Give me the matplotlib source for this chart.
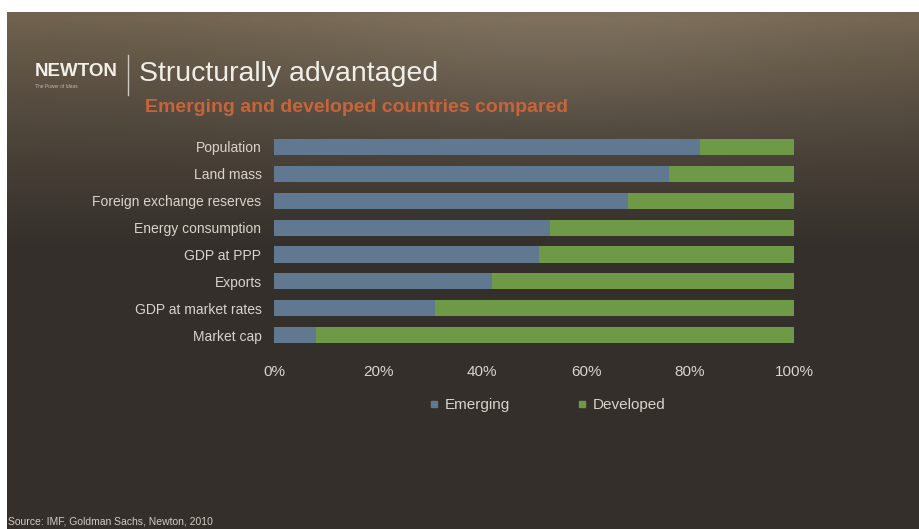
import numpy as np
import matplotlib.pyplot as plt
from matplotlib.lines import Line2D

# Share of world total held by emerging vs developed economies (%)
categories = ['Population', 'Land mass', 'Foreign exchange reserves', 'Energy consumption',
              'GDP at PPP', 'Exports', 'GDP at market rates', 'Market cap']
emerging = [82, 76, 68, 53, 51, 42, 31, 8]
developed = [100 - v for v in emerging]
xticks = [0, 20, 40, 60, 80, 100]
xtick_labels = ['0%', '20%', '40%', '60%', '80%', '100%']

blue = '#607890'
green = '#6e9946'
label_col = '#d8d4cc'

plt.rcParams['font.family'] = ['Liberation Sans', 'DejaVu Sans']

W, H = 919, 529
fig = plt.figure(figsize=(W / 100, H / 100), dpi=100)

# slide background: warm brown at the top fading into a dark charcoal
bg = fig.add_axes([0, 0, 1, 1])
yy, xx = np.mgrid[0:H, 0:W]
t = np.clip((yy - 20) / 230.0, 0, 1) ** 0.8
top = np.array([112, 98, 78]) / 255
bot = np.array([52, 47, 43]) / 255
img = top[None, None, :] * (1 - t[..., None]) + bot[None, None, :] * t[..., None]
glow = np.exp(-(((xx - 560) / 300.0) ** 2 + ((yy - 40) / 90.0) ** 2))[..., None]
img = img + glow * 0.06
img[:12, :, :] = 1.0
img[:, :7, :] = 1.0
bg.imshow(np.clip(img, 0, 1), aspect='auto', extent=[0, W, H, 0])
bg.set_xlim(0, W)
bg.set_ylim(H, 0)
bg.axis('off')

# header
bg.text(35, 71, 'NEWTON', color='#f2f0ea', fontsize=13.5, fontweight='bold', va='center')
bg.text(35, 86, 'The Power of Ideas', color='#bdb8ae', fontsize=3.5, va='center')
bg.plot([128, 128], [55, 95], color='#cfcac0', lw=1)
bg.text(139, 74, 'Structurally advantaged', color='#f0eee8', fontsize=20.5, va='center')
bg.text(145, 108, 'Emerging and developed countries compared', color='#c8643a',
        fontsize=14, fontweight='bold', va='center')
bg.text(8, 521, 'Source: IMF, Goldman Sachs, Newton, 2010', color='#d0ccc4',
        fontsize=7.5, va='center')

ax = fig.add_axes([274 / W, 1 - 348.5 / H, 520 / W, 215 / H])
ax.patch.set_alpha(0)
y = np.arange(len(categories))
ax.barh(y, emerging, height=0.6, color=blue, label='Emerging')
ax.barh(y, developed, left=emerging, height=0.6, color=green, label='Developed')
ax.set_xlim(0, 100)
ax.set_ylim(len(categories) - 0.5, -0.5)
ax.set_yticks(y)
ax.set_yticklabels(categories, color=label_col, fontsize=10)
ax.set_xticks(xticks)
ax.set_xticklabels(xtick_labels, color=label_col, fontsize=11)
ax.tick_params(length=0)
ax.tick_params(axis='y', pad=9)
ax.tick_params(axis='x', pad=12)
for s in ax.spines.values():
    s.set_visible(False)

handles = [Line2D([], [], marker='s', ls='', color=blue, markersize=4),
           Line2D([], [], marker='s', ls='', color=green, markersize=4)]
fig.legend(handles, ['Emerging', 'Developed'], loc='center', bbox_to_anchor=(546 / W, 1 - 405 / H),
           ncol=2, frameon=False, fontsize=11, labelcolor=label_col, handletextpad=0.2,
           columnspacing=4.2, handlelength=1)

fig.savefig('out.png', dpi=100)
